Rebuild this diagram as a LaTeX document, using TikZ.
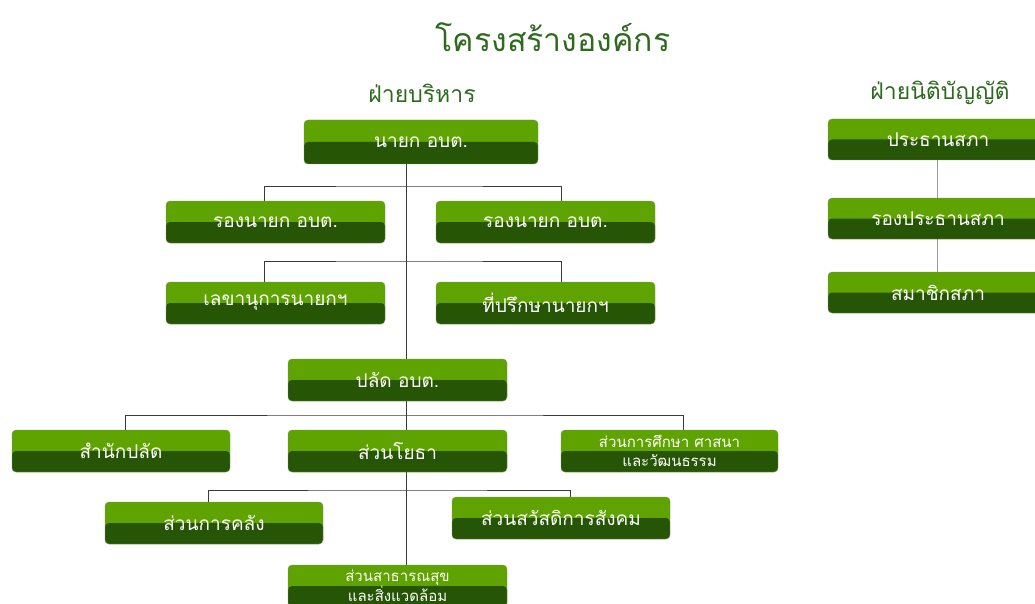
\documentclass[tikz,border=0pt]{standalone}
\usepackage{fontspec}
\newfontfamily\thai[Script=Thai]{Loma}
\usetikzlibrary{backgrounds}
\definecolor{lightg}{HTML}{5FA300}
\definecolor{darkg}{HTML}{265506}
\definecolor{titleg}{HTML}{2E6A1E}
\definecolor{lineg}{HTML}{3A3A3A}
\tikzset{
  gbox/.style={rounded corners=4pt, fill=lightg, draw=darkg!60, line width=0.4pt,
    minimum width=219pt, minimum height=42pt, inner sep=0pt,
    text=white, font=\thai\fontsize{19}{21}\selectfont, align=center,
    path picture={\fill[darkg] (path picture bounding box.west) rectangle (path picture bounding box.south east);}},
  gsmall/.style={gbox, font=\thai\fontsize{15}{19}\selectfont},
  heading/.style={text=titleg, font=\thai\fontsize{23}{26}\selectfont},
  conn/.style={draw=lineg, line width=0.9pt},
  connl/.style={draw=gray!80, line width=0.9pt}
}
\begin{document}
\begin{tikzpicture}[x=1pt,y=-1pt]
\useasboundingbox (0,0) rectangle (1035,604);
\clip (0,0) rectangle (1035,604);
\node[text=titleg, font=\thai\fontsize{32}{36}\selectfont] (title) at (553,37) {โครงสร้างองค์กร};
\node[heading] (exec) at (422,93) {ฝ่ายบริหาร};
\node[heading] (leg) at (940,93) {ฝ่ายนิติบัญญัติ};

\node[gbox, minimum width=234pt, minimum height=44pt] (nayok) at (421,142) {นายก อบต.};
\node[gbox] (rong1) at (275.5,222) {รองนายก อบต.};
\node[gbox] (rong2) at (545.5,222) {รองนายก อบต.};
\node[gbox] (sec) at (275.5,303) {เลขานุการนายกฯ};
\node[gbox] (adv) at (545.5,303) {ที่ปรึกษานายกฯ};
\node[gbox] (palad) at (397.5,380) {ปลัด อบต.};
\node[gbox, minimum width=218pt] (office) at (121,451) {สำนักปลัด};
\node[gbox] (yotha) at (397.5,451) {ส่วนโยธา};
\node[gsmall, minimum width=217pt] (edu) at (669.5,451) {ส่วนการศึกษา ศาสนา\\และวัฒนธรรม};
\node[gbox, minimum width=218pt] (finance) at (214,523) {ส่วนการคลัง};
\node[gbox, minimum width=218pt] (welfare) at (561,518) {ส่วนสวัสดิการสังคม};
\node[gsmall] (health) at (397.5,586) {ส่วนสาธารณสุข\\และสิ่งแวดล้อม};

\node[gbox, minimum width=220pt, minimum height=41pt] (prathan) at (938,139.5) {ประธานสภา};
\node[gbox, minimum width=220pt, minimum height=41pt] (rongprathan) at (938,218.5) {รองประธานสภา};
\node[gbox, minimum width=220pt, minimum height=41pt] (member) at (938,292.5) {สมาชิกสภา};

\coordinate (spine) at (406,0);
\coordinate (j1) at (406,186);
\coordinate (j2) at (406,261);
\coordinate (j3) at (406,415);
\coordinate (j4) at (406,490);

\begin{scope}[on background layer]
\draw[conn] (nayok.south -| spine) -- (health.north -| spine);
\draw[conn] ([xshift=-11.5pt]rong1.north) |- (j1) -| ([xshift=15.5pt]rong2.north);
\draw[conn] ([xshift=-11.5pt]sec.north) |- (j2) -| ([xshift=15.5pt]adv.north);
\draw[conn] ([xshift=4pt]office.north) |- (j3) -| ([xshift=13.5pt]edu.north);
\draw[conn] ([xshift=-6pt]finance.north) |- (j4) -| ([xshift=9pt]welfare.north);
\draw[connl] ([xshift=-1pt]prathan.south) -- ([xshift=-1pt]rongprathan.north);
\draw[connl] ([xshift=-1pt]rongprathan.south) -- ([xshift=-1pt]member.north);
\end{scope}
\end{tikzpicture}
\end{document}
